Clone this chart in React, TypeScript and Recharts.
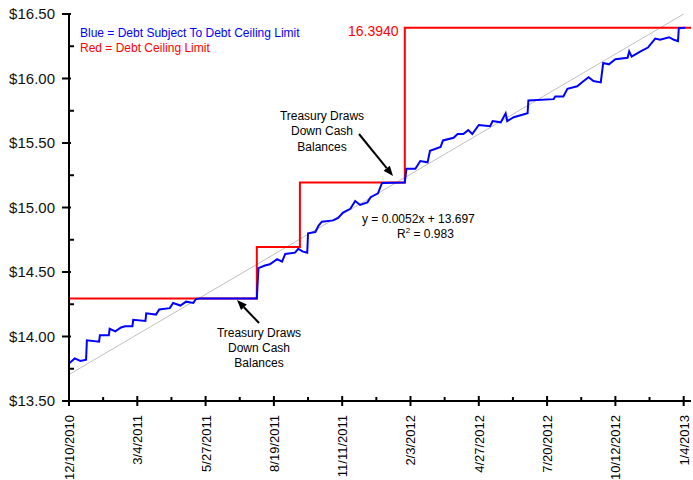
import React from 'react';
import { LineChart, Line, XAxis, YAxis } from 'recharts';

// days counted from 12/10/2010
const blueDays = [
  0, 7, 14, 21, 22, 37, 38, 49, 50, 57, 64, 69, 78, 79, 94, 95, 107, 111, 124, 128,
  137, 144, 153, 156, 161, 231, 233, 241, 247, 256, 262, 266, 278, 282, 287, 293, 294, 303, 307, 311,
  325, 331, 337, 346, 352, 358, 367, 371, 380, 385, 413, 415, 426, 432, 441, 444, 457, 460, 473, 478,
  485, 491, 496, 504, 518, 521, 531, 537, 539, 547, 564, 565, 596, 598, 608, 613, 625, 633, 639, 645,
  654, 657, 664, 672, 687, 689, 692, 703, 712, 721, 727, 738, 744, 749, 750, 758,
];
const blueValues = [
  13.79, 13.83, 13.81, 13.82, 13.97, 13.96, 14.01, 14.01, 14.06, 14.04, 14.07, 14.08, 14.08, 14.13, 14.12, 14.18, 14.17, 14.21, 14.22, 14.26,
  14.24, 14.27, 14.26, 14.29, 14.294, 14.294, 14.53, 14.55, 14.56, 14.6, 14.58, 14.64, 14.65, 14.68, 14.66, 14.65, 14.8, 14.81, 14.86, 14.89,
  14.9, 14.92, 14.96, 14.99, 15.05, 15.02, 15.04, 15.08, 15.11, 15.19, 15.194, 15.3, 15.3, 15.36, 15.35, 15.44, 15.47, 15.52, 15.54, 15.57,
  15.57, 15.6, 15.57, 15.64, 15.63, 15.67, 15.66, 15.73, 15.67, 15.7, 15.73, 15.83, 15.84, 15.86, 15.86, 15.92, 15.94, 15.98, 16.01, 15.98,
  15.97, 16.12, 16.11, 16.15, 16.16, 16.21, 16.17, 16.21, 16.24, 16.31, 16.3, 16.32, 16.3, 16.29, 16.39, 16.394,
];

const ceilingDays = [0, 231, 284, 413, 765];
const ceilingValues = [14.294, 14.694, 15.194, 16.394, 16.394];

const trendDays = [0, 756];
const trendValues = [13.705, 16.5];

const xTickDays = [0, 84, 168, 252, 336, 420, 504, 588, 672, 756];
const xTickLabels = ['12/10/2010', '3/4/2011', '5/27/2011', '8/19/2011', '11/11/2011', '2/3/2012', '4/27/2012', '7/20/2012', '10/12/2012', '1/4/2013'];

const yTickValues = [13.5, 14, 14.5, 15, 15.5, 16, 16.5];
const yTickLabels = ['$13.50', '$14.00', '$14.50', '$15.00', '$15.50', '$16.00', '$16.50'];

const blueData = blueDays.map((d, i) => ({ day: d, v: blueValues[i] }));
const ceilingData = ceilingDays.map((d, i) => ({ day: d, v: ceilingValues[i] }));
const trendData = trendDays.map((d, i) => ({ day: d, v: trendValues[i] }));

const xTicks = xTickDays.flatMap((d, i) => (i < xTickDays.length - 1 ? [d, d + 42] : [d]));
const yTicks = yTickValues.flatMap((v, i) => (i < yTickValues.length - 1 ? [v, v + 0.25] : [v]));

const FONT = '"Liberation Sans", Arial, sans-serif';

const BottomTick = (props: any) => {
  const { x, y, payload } = props;
  const idx = xTickDays.indexOf(payload.value);
  const major = idx >= 0;
  return (
    <g>
      <line x1={x} x2={x} y1={y - (major ? 5 : 4)} y2={major ? y + 5 : y} stroke="#000" strokeWidth={2} />
      {major && (
        <text
          transform={`translate(${x + 5},${y + 14}) rotate(-90)`}
          textAnchor="end"
          fontSize={13}
          fontFamily={FONT}
          fill="#000"
        >
          {xTickLabels[idx]}
        </text>
      )}
    </g>
  );
};

const TopTick = (props: any) => {
  const { x, y, payload } = props;
  const major = xTickDays.indexOf(payload.value) >= 0;
  return <line x1={x} x2={x} y1={major ? y - 5 : y} y2={y + (major ? 5 : 4)} stroke="#000" strokeWidth={2} />;
};

const LeftTick = (props: any) => {
  const { x, y, payload } = props;
  const idx = yTickValues.indexOf(payload.value);
  const major = idx >= 0;
  return (
    <g>
      <line x1={major ? x - 7 : x} x2={x + (major ? 2 : 5)} y1={y} y2={y} stroke="#000" strokeWidth={2} />
      {major && (
        <text x={x - 14} y={y + 5} textAnchor="end" fontSize={15} fontFamily={FONT} fill="#111">
          {yTickLabels[idx]}
        </text>
      )}
    </g>
  );
};

const RightTick = (props: any) => {
  const { x, y } = props;
  return <line x1={x - 5} x2={x} y1={y} y2={y} stroke="#000" strokeWidth={2} />;
};

const Arrow = ({ x1, y1, x2, y2 }: { x1: number; y1: number; x2: number; y2: number }) => {
  const a = Math.atan2(y2 - y1, x2 - x1);
  const len = 10;
  const w = 4;
  const bx = x2 - len * Math.cos(a);
  const by = y2 - len * Math.sin(a);
  const px = -Math.sin(a) * w;
  const py = Math.cos(a) * w;
  return (
    <g>
      <line x1={x1} y1={y1} x2={bx} y2={by} stroke="#000" strokeWidth={2} />
      <polygon points={`${x2},${y2} ${bx + px},${by + py} ${bx - px},${by - py}`} fill="#000" />
    </g>
  );
};

const App = () => {
  return (
    <div style={{ position: 'absolute', left: 0, top: 0, width: 693, height: 480, background: '#fff' }}>
      <LineChart width={693} height={480} margin={{ top: 14, right: 2, left: 0, bottom: 0 }}>
        <XAxis
          dataKey="day"
          type="number"
          domain={[0, 765]}
          ticks={xTicks}
          interval={0}
          height={79}
          tickSize={0}
          tickMargin={0}
          tickLine={false}
          tick={<BottomTick />}
          axisLine={{ stroke: '#000', strokeWidth: 2 }}
          allowDataOverflow
        />
        <XAxis
          xAxisId="top"
          orientation="top"
          dataKey="day"
          type="number"
          domain={[0, 765]}
          ticks={xTicks}
          interval={0}
          height={0}
          tickSize={0}
          tickMargin={0}
          tickLine={false}
          tick={<TopTick />}
          axisLine={{ stroke: '#000', strokeWidth: 2 }}
        />
        <YAxis
          type="number"
          domain={[13.5, 16.5]}
          ticks={yTicks}
          interval={0}
          width={69}
          tickSize={0}
          tickMargin={0}
          tickLine={false}
          tick={<LeftTick />}
          axisLine={{ stroke: '#000', strokeWidth: 2 }}
          allowDataOverflow
        />
        <YAxis
          yAxisId="right"
          orientation="right"
          type="number"
          domain={[13.5, 16.5]}
          ticks={yTicks}
          interval={0}
          width={0}
          tickSize={0}
          tickMargin={0}
          tickLine={false}
          tick={<RightTick />}
          axisLine={{ stroke: '#000', strokeWidth: 2 }}
        />
        <Line data={trendData} dataKey="v" type="linear" stroke="#c0c0c0" strokeWidth={1} dot={false} activeDot={false} isAnimationActive={false} />
        <Line data={ceilingData} dataKey="v" type="stepAfter" stroke="#ff0000" strokeWidth={2} dot={false} activeDot={false} isAnimationActive={false} />
        <Line data={blueData} dataKey="v" type="linear" stroke="#0000ff" strokeWidth={2} dot={false} activeDot={false} isAnimationActive={false} />
      </LineChart>
      <svg width={693} height={480} style={{ position: 'absolute', left: 0, top: 0, pointerEvents: 'none' }}>
        <g fontFamily={FONT} fontSize={12}>
          <text x={80} y={37} fill="#0000ff">Blue = Debt Subject To Debt Ceiling Limit</text>
          <text x={80} y={52} fill="#ff0000">Red = Debt Ceiling Limit</text>
          <text x={348} y={36} fill="#ff0000" fontSize={14}>16.3940</text>
          <g textAnchor="middle" fill="#000">
            <text x={322} y={120}>Treasury Draws</text>
            <text x={322} y={135}>Down Cash</text>
            <text x={322} y={151}>Balances</text>
            <text x={259} y={337}>Treasury Draws</text>
            <text x={259} y={352}>Down Cash</text>
            <text x={259} y={367}>Balances</text>
          </g>
          <text x={362} y={223} fill="#000">y = 0.0052x + 13.697</text>
          <text x={397} y={238} fill="#000">
            R<tspan dy={-5} fontSize={8}>2</tspan>
            <tspan dy={5}> = 0.983</tspan>
          </text>
        </g>
        <Arrow x1={259} y1={323} x2={237} y2={300} />
        <Arrow x1={359} y1={134} x2={393} y2={176} />
      </svg>
    </div>
  );
};

export default App;
